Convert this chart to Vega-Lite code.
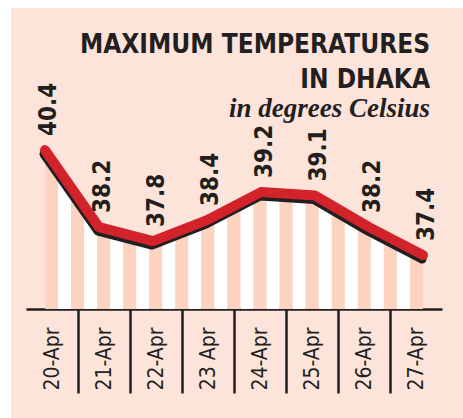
{
  "$schema": "https://vega.github.io/schema/vega-lite/v6.json",
  "width": 452,
  "height": 410,
  "autosize": {"type": "none"},
  "padding": {"left": 11, "top": 8, "right": 0, "bottom": 0},
  "background": "#ffffff",
  "config": {"view": {"fill": "#fce4da", "stroke": null}},
  "title": {
    "text": ["MAXIMUM TEMPERATURES", "IN DHAKA"],
    "subtitle": "in degrees Celsius",
    "anchor": "end",
    "frame": "group",
    "orient": "top",
    "dx": -33,
    "offset": -114,
    "font": "DejaVu Sans Condensed, DejaVu Sans, sans-serif",
    "fontSize": 26,
    "fontWeight": "bold",
    "color": "#231f20",
    "lineHeight": 35,
    "subtitleFont": "Liberation Serif, serif",
    "subtitleFontSize": 27,
    "subtitleFontStyle": "italic",
    "subtitleFontWeight": "bold",
    "subtitleColor": "#231f20",
    "subtitlePadding": 3
  },
  "datasets": {
    "temps": [
      {"date": "20-Apr", "t": 40.4},
      {"date": "21-Apr", "t": 38.2},
      {"date": "22-Apr", "t": 37.8},
      {"date": "23 Apr", "t": 38.4},
      {"date": "24-Apr", "t": 39.2},
      {"date": "25-Apr", "t": 39.1},
      {"date": "26-Apr", "t": 38.2},
      {"date": "27-Apr", "t": 37.4}
    ],
    "stripes": [
      {"s": 0}, {"s": 1}, {"s": 2}, {"s": 3}, {"s": 4}, {"s": 5}, {"s": 6}, {"s": 7}, {"s": 8}, {"s": 9},
      {"s": 10}, {"s": 11}, {"s": 12}, {"s": 13}, {"s": 14}, {"s": 15}, {"s": 16}, {"s": 17}, {"s": 18}, {"s": 19},
      {"s": 20}, {"s": 21}, {"s": 22}, {"s": 23}, {"s": 24}, {"s": 25}, {"s": 26}, {"s": 27}, {"s": 28}
    ]
  },
  "resolve": {"scale": {"x": "independent"}},
  "layer": [
    {
      "data": {"name": "stripes"},
      "mark": {"type": "bar"},
      "encoding": {
        "x": {"field": "s", "type": "ordinal", "scale": {"type": "band", "range": [34, 412], "paddingInner": 0, "paddingOuter": 0}, "axis": null},
        "y": {"datum": 40.83, "type": "quantitative", "scale": {"domain": [35.86, 40.83], "range": [301, 127]}, "axis": null},
        "y2": {"datum": 35.86},
        "color": {"condition": {"test": "datum.s % 2 === 0", "value": "#fbd3c0"}, "value": "#ffffff"}
      }
    },
    {
      "data": {"name": "temps"},
      "mark": {"type": "area", "color": "#fce4da"},
      "encoding": {
        "x": {"field": "date", "type": "ordinal", "sort": null, "scale": {"type": "point", "range": [34, 412], "padding": 0}, "axis": null},
        "y": {"field": "t", "type": "quantitative", "scale": {"domain": [35.86, 40.83], "range": [301, 127]}, "axis": null},
        "y2": {"datum": 40.83}
      }
    },
    {
      "data": {"name": "temps"},
      "mark": {"type": "line", "color": "#231f20", "strokeWidth": 9, "strokeCap": "round", "strokeJoin": "round", "yOffset": 4, "xOffset": -1},
      "encoding": {
        "x": {"field": "date", "type": "ordinal", "sort": null, "scale": {"type": "point", "range": [34, 412], "padding": 0}, "axis": null},
        "y": {"field": "t", "type": "quantitative", "scale": {"domain": [35.86, 40.83], "range": [301, 127]}, "axis": null}
      }
    },
    {
      "data": {"name": "temps"},
      "mark": {"type": "line", "color": "#d2232a", "strokeWidth": 10, "strokeCap": "round", "strokeJoin": "round"},
      "encoding": {
        "x": {"field": "date", "type": "ordinal", "sort": null, "scale": {"type": "point", "range": [34, 412], "padding": 0}, "axis": null},
        "y": {"field": "t", "type": "quantitative", "scale": {"domain": [35.86, 40.83], "range": [301, 127]}, "axis": null}
      }
    },
    {
      "data": {"name": "temps"},
      "mark": {"type": "text", "angle": 270, "align": "left", "baseline": "middle", "dx": 14, "dy": 4, "font": "DejaVu Sans Condensed, DejaVu Sans, sans-serif", "fontWeight": "bold", "fontSize": 24, "color": "#231f20"},
      "encoding": {
        "x": {"field": "date", "type": "ordinal", "sort": null, "scale": {"type": "point", "range": [34, 412], "padding": 0}, "axis": null},
        "y": {"field": "t", "type": "quantitative", "scale": {"domain": [35.86, 40.83], "range": [301, 127]}, "axis": null},
        "text": {"field": "t", "type": "quantitative", "format": ".1f"}
      }
    },
    {
      "data": {"name": "temps"},
      "mark": {"type": "point", "opacity": 0},
      "encoding": {
        "x": {
          "field": "date", "type": "ordinal", "sort": null,
          "scale": {"type": "band", "range": [15, 431], "paddingInner": 0, "paddingOuter": 0},
          "axis": {
            "orient": "bottom",
            "title": null,
            "grid": false,
            "offset": -109,
            "domainColor": "#231f20",
            "domainWidth": 2.5,
            "tickBand": "extent",
            "tickSize": 84,
            "tickWidth": 2.5,
            "tickColor": "#231f20",
            "tickOpacity": {"condition": {"test": "datum.value === '27-Apr' || datum.index < 0", "value": 0}, "value": 1},
            "labelAngle": 270,
            "labelAlign": "right",
            "labelBaseline": "middle",
            "labelPadding": -66,
            "labelFont": "DejaVu Sans Condensed, DejaVu Sans, sans-serif",
            "labelFontSize": 21,
            "labelColor": "#231f20"
          }
        },
        "y": {"field": "t", "type": "quantitative", "scale": {"domain": [35.86, 40.83], "range": [301, 127]}, "axis": null}
      }
    }
  ]
}
